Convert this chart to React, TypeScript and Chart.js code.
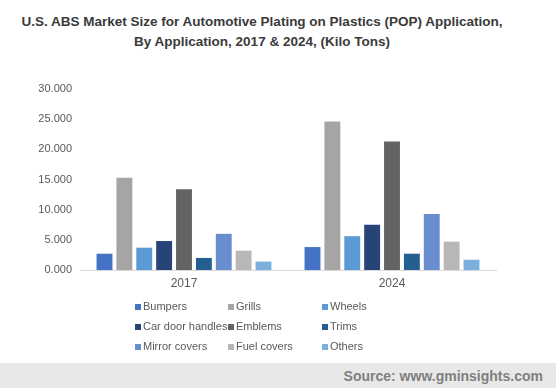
import React, { useEffect, useRef } from "react";
import { Chart, registerables } from "chart.js";

Chart.register(...registerables);

const categories = ["2017", "2024"];
const seriesNames = [
  "Bumpers",
  "Grills",
  "Wheels",
  "Car door handles",
  "Emblems",
  "Trims",
  "Mirror covers",
  "Fuel covers",
  "Others",
];
const bumpers = [2.7, 3.8];
const grills = [15.3, 24.6];
const wheels = [3.7, 5.6];
const carDoorHandles = [4.8, 7.5];
const emblems = [13.4, 21.3];
const trims = [2.0, 2.7];
const mirrorCovers = [6.0, 9.3];
const fuelCovers = [3.2, 4.7];
const others = [1.4, 1.7];
const seriesValues = [bumpers, grills, wheels, carDoorHandles, emblems, trims, mirrorCovers, fuelCovers, others];
const seriesColors = [
  "#4472C4",
  "#A5A5A5",
  "#5B9BD5",
  "#264478",
  "#636363",
  "#255E91",
  "#698ED0",
  "#B7B7B7",
  "#7CAFDD",
];
const yTicks = [0, 5, 10, 15, 20, 25, 30];

const FONT = "'Liberation Sans', Arial, sans-serif";

const legendPlugin = {
  id: "gridLegend",
  afterDraw(chart: any) {
    const ctx = chart.ctx;
    const colX = [135, 228, 322];
    const rowY = [307, 327, 347];
    ctx.save();
    ctx.font = `11px ${FONT}`;
    ctx.textBaseline = "middle";
    ctx.textAlign = "left";
    chart.data.datasets.forEach((ds: any, i: number) => {
      const x = colX[i % 3];
      const y = rowY[Math.floor(i / 3)];
      ctx.fillStyle = ds.backgroundColor;
      ctx.fillRect(x, y - 3, 6, 6);
      ctx.fillStyle = "#595959";
      ctx.fillText(ds.label, x + 8, y);
    });
    ctx.restore();
  },
};

export default function App() {
  const ref = useRef<HTMLCanvasElement>(null);
  useEffect(() => {
    if (!ref.current) return;
    const chart = new Chart(ref.current, {
      type: "bar",
      data: {
        labels: categories,
        datasets: seriesNames.map((name, i) => ({
          label: name,
          data: seriesValues[i],
          backgroundColor: seriesColors[i],
          borderWidth: 0,
          categoryPercentage: 0.86,
          barPercentage: 0.8,
        })),
      },
      options: {
        animation: false,
        responsive: false,
        maintainAspectRatio: false,
        events: [],
        layout: { padding: { left: 0, right: 60, top: 89, bottom: 88 } },
        plugins: {
          legend: { display: false },
          title: { display: false },
          tooltip: { enabled: false },
        },
        scales: {
          x: {
            grid: { display: false, drawTicks: false },
            border: { display: true, color: "#d9d9d9", width: 1 },
            ticks: { color: "#595959", font: { family: FONT, size: 12 }, padding: 6 },
            afterFit: (s: any) => {
              s.height = 30;
            },
          },
          y: {
            min: 0,
            max: 30,
            afterBuildTicks: (s: any) => {
              s.ticks = yTicks.map((v) => ({ value: v }));
            },
            grid: { display: false, drawTicks: false },
            border: { display: false },
            ticks: {
              color: "#595959",
              font: { family: FONT, size: 11 },
              padding: 8,
              callback: (v: any) => Number(v).toFixed(3),
            },
            afterFit: (s: any) => {
              s.width = 80;
            },
          },
        },
      },
      plugins: [legendPlugin],
    });
    return () => chart.destroy();
  }, []);

  return (
    <div
      style={{
        position: "fixed",
        left: 0,
        top: 0,
        width: 556,
        height: 388,
        background: "#ffffff",
        overflow: "hidden",
        fontFamily: FONT,
      }}
    >
      <div
        style={{
          position: "absolute",
          left: 0,
          top: 12,
          width: 524,
          textAlign: "center",
          fontWeight: "bold",
          fontSize: 13.5,
          lineHeight: "20px",
          color: "#3a3a3a",
          whiteSpace: "nowrap",
        }}
      >
        U.S. ABS Market Size for Automotive Plating on Plastics (POP) Application,
        <br />
        By Application, 2017 &amp; 2024, (Kilo Tons)
      </div>
      <canvas ref={ref} width={556} height={388} style={{ position: "absolute", left: 0, top: 0 }} />
      <div
        style={{
          position: "absolute",
          left: 0,
          top: 363,
          width: 556,
          height: 25,
          background: "#e8e8e8",
        }}
      >
        <div
          style={{
            position: "absolute",
            right: 13,
            top: 0,
            lineHeight: "26px",
            fontWeight: "bold",
            fontSize: 14,
            color: "#7f7f7f",
          }}
        >
          Source: www.gminsights.com
        </div>
      </div>
    </div>
  );
}
